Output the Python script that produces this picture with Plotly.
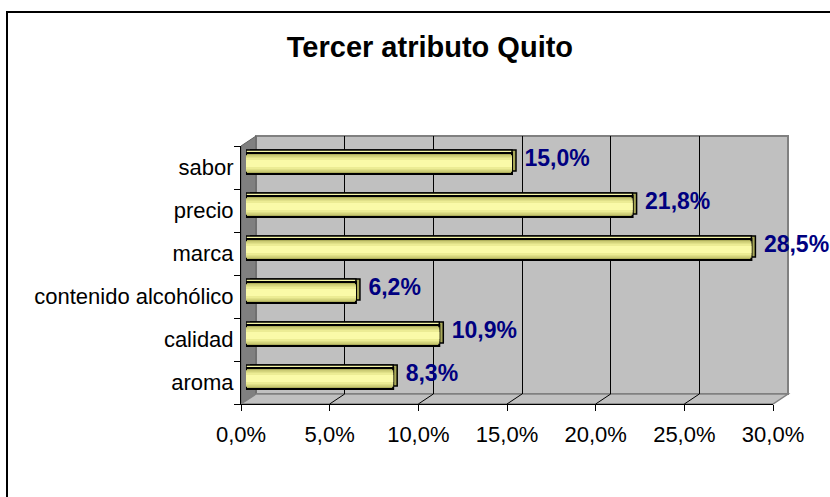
import plotly.graph_objects as go

# ---- data ----
categories = ["aroma", "calidad", "contenido alcohólico", "marca", "precio", "sabor"]
values = [8.3, 10.9, 6.2, 28.5, 21.8, 15.0]
tick_values = [0, 5, 10, 15, 20, 25, 30]
tick_labels = ["0,0%", "5,0%", "10,0%", "15,0%", "20,0%", "25,0%", "30,0%"]
value_labels = [f"{v:.1f}%".replace(".", ",") for v in values]
title_text = "Tercer atributo Quito"

# ---- geometry (pixels) ----
W, H = 830, 497
L, R, T, B = 241, 830 - 788, 136, 497 - 404
PW, PH = W - L - R, H - T - B


def fx(px):
    return (px - L) / PW


def fy(py):
    return (H - B - py) / PH


FONT = "Liberation Sans, Arial, sans-serif"
cat_range = [-0.5, len(categories) - 0.5]
BW = 0.49

fig = go.Figure()

# subplot 1: back wall grid (invisible trace to create subplot)
fig.add_trace(go.Scatter(x=[0], y=[categories[0]], mode="markers",
                         marker=dict(opacity=0), hoverinfo="skip",
                         showlegend=False, xaxis="x", yaxis="y"))

# subplot 2: back copy of bars (side face, olive)
fig.add_trace(go.Bar(x=values, y=categories, orientation="h", width=BW,
                     marker=dict(color="#A8A858", line=dict(color="black", width=1.5)),
                     showlegend=False, xaxis="x2", yaxis="y2", hoverinfo="skip"))
# labels next to the bars
fig.add_trace(go.Scatter(x=values, y=categories, mode="markers+text",
                         text=value_labels, textposition="middle right",
                         marker=dict(size=12, opacity=0),
                         textfont=dict(family=FONT, size=23, color="#000080", weight="bold"),
                         cliponaxis=False, showlegend=False,
                         xaxis="x2", yaxis="y2", hoverinfo="skip"))

# subplot 3: top face copy (light yellow)
fig.add_trace(go.Bar(x=values, y=categories, orientation="h", width=BW,
                     marker=dict(color="#F4F4A4", line=dict(color="black", width=1.5)),
                     showlegend=False, xaxis="x3", yaxis="y3", hoverinfo="skip"))

# subplot 4: front face with stepped shading
for w, col, lw in [(BW, "#B0B05C", 2), (BW * 0.78, "#D4D47C", 0),
                   (BW * 0.56, "#ECEC94", 0), (BW * 0.34, "#FAFAA8", 0)]:
    fig.add_trace(go.Bar(x=values, y=categories, orientation="h", width=w,
                         marker=dict(color=col, line=dict(color="black", width=lw)),
                         showlegend=False, xaxis="x4", yaxis="y4", hoverinfo="skip"))

# subplot 5: front axes (labels, ticks)
fig.add_trace(go.Scatter(x=[0] * len(categories), y=categories, mode="markers",
                         marker=dict(opacity=0), hoverinfo="skip",
                         showlegend=False, xaxis="x5", yaxis="y5"))

hidden = dict(showgrid=False, zeroline=False, showline=False,
              showticklabels=False, ticks="")


def xdom(x0, x1):
    return [fx(x0), fx(x1)]


def ydom(y_top, y_bot):
    return [fy(y_bot), fy(y_top)]


cat_axis = dict(type="category", categoryorder="array", categoryarray=categories,
                range=cat_range)

layout = dict(
    width=W, height=H,
    margin=dict(l=L, r=R, t=T, b=B, pad=0),
    paper_bgcolor="white", plot_bgcolor="rgba(0,0,0,0)",
    barmode="overlay",
    title=dict(text=title_text, x=0.518, xanchor="center", y=1 - 47 / H, yanchor="middle",
               font=dict(family=FONT, size=29, color="black", weight="bold")),
    xaxis=dict(domain=xdom(256, 788), range=[0, 30], anchor="y",
               showgrid=True, gridcolor="black", gridwidth=1,
               tickvals=[5, 10, 15, 20, 25], showticklabels=False,
               zeroline=False, showline=False, ticks=""),
    yaxis=dict(domain=ydom(136, 394), anchor="x", **cat_axis, **hidden),
    xaxis2=dict(domain=xdom(250, 782), range=[0, 30], anchor="y2", **hidden),
    yaxis2=dict(domain=ydom(139, 397), anchor="x2", **cat_axis, **hidden),
    xaxis3=dict(domain=xdom(246, 778), range=[0, 30], anchor="y3", **hidden),
    yaxis3=dict(domain=ydom(139, 397), anchor="x3", **cat_axis, **hidden),
    xaxis4=dict(domain=xdom(246, 778), range=[0, 30], anchor="y4", **hidden),
    yaxis4=dict(domain=ydom(142, 400), anchor="x4", **cat_axis, **hidden),
    xaxis5=dict(domain=xdom(241, 773), range=[0, 30], anchor="y5",
                tickvals=tick_values, ticktext=tick_labels,
                showgrid=False, zeroline=False, showline=True, linecolor="black",
                linewidth=1, ticks="outside", ticklen=6, tickcolor="black",
                ticklabelstandoff=5,
                tickfont=dict(family=FONT, size=22, color="black")),
    yaxis5=dict(domain=ydom(146, 404), anchor="x5", **cat_axis,
                showgrid=False, zeroline=False, showline=True, linecolor="black",
                linewidth=1, ticks="outside", ticklen=6, tickcolor="black",
                tickson="boundaries", ticklabelstandoff=2,
                tickfont=dict(family=FONT, size=22, color="black")),
)
fig.update_layout(**layout)


def path(pts):
    return "M " + " L ".join(f"{fx(x)},{fy(y)}" for x, y in pts) + " Z"


shapes = [
    # outer frame
    dict(type="rect", xref="paper", yref="paper", x0=fx(7), x1=fx(850), y0=fy(520), y1=fy(12),
         line=dict(color="black", width=2), fillcolor="rgba(0,0,0,0)", layer="below"),
    # back wall
    dict(type="rect", xref="paper", yref="paper", x0=fx(256), x1=fx(788), y0=fy(394), y1=fy(136),
         line=dict(color="#808080", width=2), fillcolor="#C0C0C0", layer="below"),
    # side wall
    dict(type="path", xref="paper", yref="paper",
         path=path([(241, 146), (256, 136), (256, 394), (241, 404)]),
         line=dict(color="#606060", width=1), fillcolor="#808080", layer="below"),
    # floor
    dict(type="path", xref="paper", yref="paper",
         path=path([(241, 404), (256, 394), (788, 394), (773, 404)]),
         line=dict(color="#808080", width=1.5), fillcolor="#C0C0C0", layer="below"),
]
# floor diagonal grid lines at each tick value
for v in tick_values[1:-1]:
    shapes.append(dict(type="line", xref="x5", xsizemode="pixel", xanchor=v, x0=0, x1=15,
                       yref="paper", y0=fy(404), y1=fy(394),
                       line=dict(color="black", width=1), layer="below"))
fig.update_layout(shapes=shapes)

fig.write_html("out.html", config={"displayModeBar": False},
               post_script="document.body.style.margin='0px';")
